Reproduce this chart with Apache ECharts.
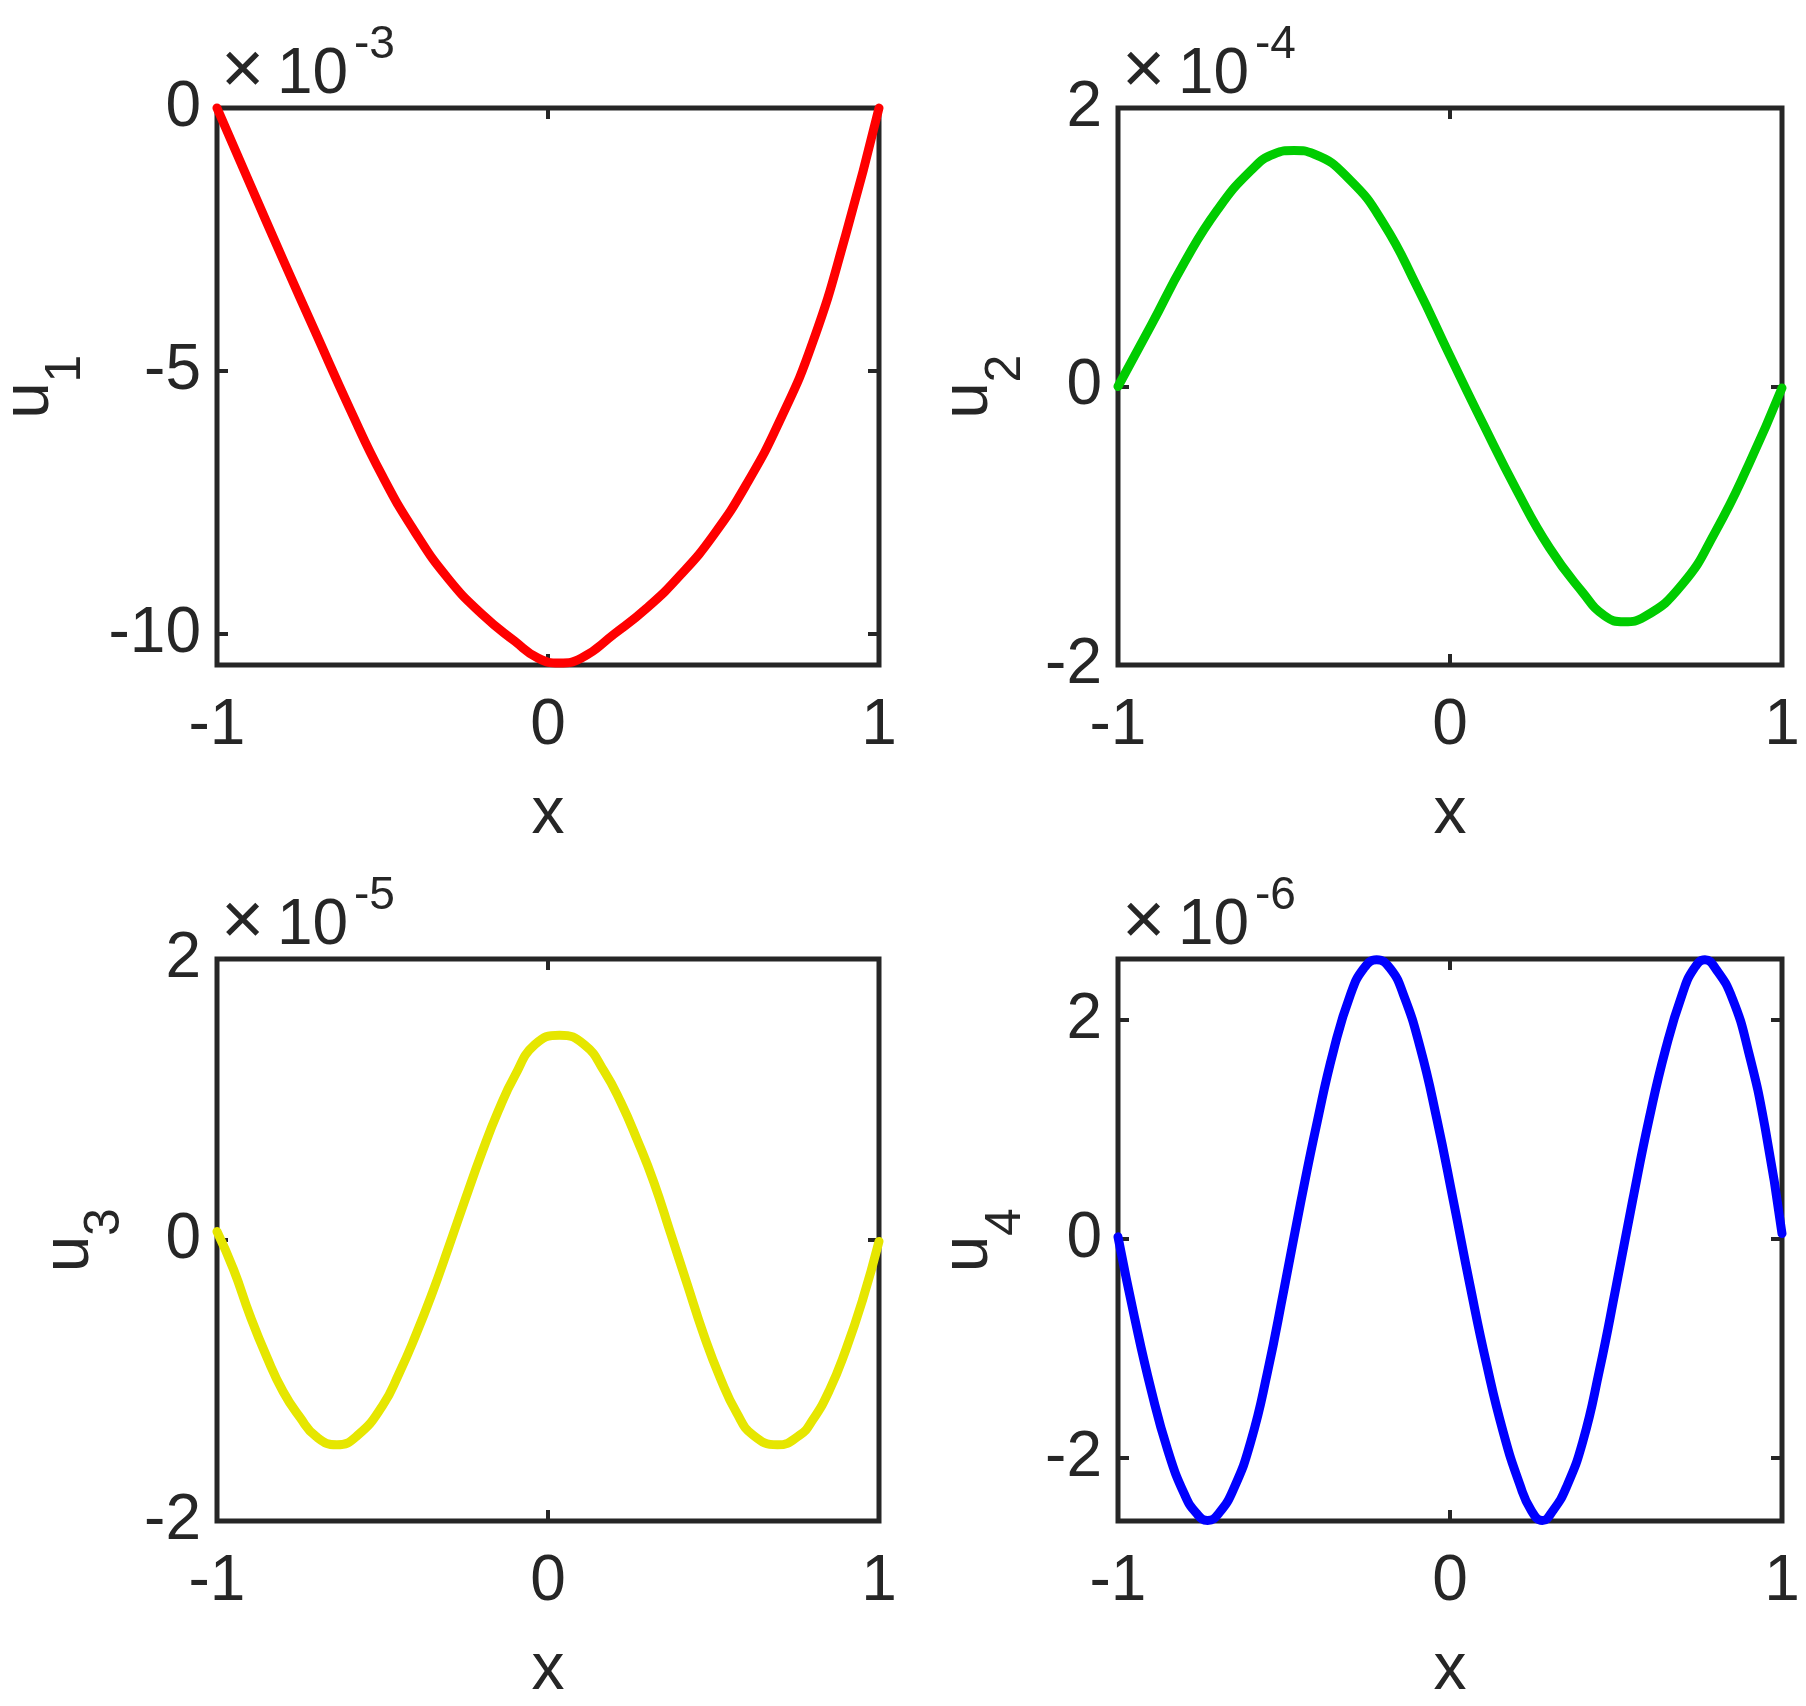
<!DOCTYPE html>
<html>
<head>
<meta charset="utf-8">
<script src="https://cdn.jsdelivr.net/npm/echarts@6/dist/echarts.min.js"></script>
<style>
  html, body { margin: 0; padding: 0; background: #fff; }
  #chart { width: 1806px; height: 1706px; }
</style>
</head>
<body>
<div id="chart"></div>
<script>
// u1 in units of 1e-3
const x1 = [-1.0, -0.9, -0.8, -0.7, -0.6, -0.5, -0.4, -0.3, -0.2, -0.1, -0.03,
  0.035, 0.1, 0.2, 0.3, 0.4, 0.5, 0.6, 0.7, 0.8, 0.9, 1.0];
const u1 = [0, -1.45, -2.89, -4.30, -5.70, -7.0, -8.08, -8.96, -9.62, -10.14, -10.46,
  -10.55, -10.46, -10.0, -9.50, -8.88, -8.12, -7.15, -5.95, -4.45, -2.40, 0];

// u2 in units of 1e-4
const x2 = [-1.0, -0.9, -0.8, -0.7, -0.6, -0.53, -0.47, -0.41, -0.3, -0.2, -0.1, 0.0,
  0.1, 0.2, 0.3, 0.4, 0.465, 0.525, 0.585, 0.7, 0.8, 0.9, 1.0];
const u2 = [0.0, 0.44, 0.89, 1.27, 1.55, 1.67, 1.695, 1.67, 1.48, 1.17, 0.72, 0.22,
  -0.27, -0.74, -1.16, -1.48, -1.645, -1.69, -1.655, -1.42, -1.04, -0.56, -0.01];

// u3 in units of 1e-5
const x3 = [-1.0, -0.95, -0.9, -0.85, -0.8, -0.75, -0.7, -0.638, -0.575, -0.5, -0.45,
  -0.4, -0.35, -0.3, -0.25, -0.2, -0.15, -0.1, -0.04, 0.035, 0.11, 0.17,
  0.22, 0.27, 0.32, 0.37, 0.42, 0.47, 0.52, 0.57, 0.62, 0.693, 0.76,
  0.8, 0.85, 0.9, 0.95, 1.0];
const u3 = [0.06, -0.21, -0.54, -0.83, -1.08, -1.26, -1.40, -1.458, -1.39, -1.18, -0.95,
  -0.68, -0.38, -0.05, 0.29, 0.62, 0.92, 1.17, 1.39, 1.458, 1.39, 1.20,
  0.98, 0.71, 0.41, 0.05, -0.31, -0.67, -0.98, -1.23, -1.39, -1.458, -1.39,
  -1.28, -1.07, -0.78, -0.43, -0.01];

// u4 in units of 1e-6
const x4 = [-1.0, -0.95, -0.9, -0.85, -0.8, -0.765, -0.73, -0.695, -0.65, -0.6, -0.55,
  -0.5, -0.45, -0.4, -0.35, -0.3, -0.26, -0.221, -0.18, -0.14, -0.09, -0.04,
  0.01, 0.06, 0.11, 0.16, 0.21, 0.245, 0.278, 0.31, 0.35, 0.4, 0.45,
  0.5, 0.55, 0.6, 0.65, 0.7, 0.735, 0.768, 0.8, 0.85, 0.9, 0.95, 1.0];
const u4 = [0.02, -0.72, -1.38, -1.93, -2.33, -2.50, -2.57, -2.50, -2.27, -1.85, -1.22,
  -0.46, 0.33, 1.07, 1.73, 2.23, 2.47, 2.55, 2.47, 2.23, 1.75, 1.10,
  0.35, -0.42, -1.14, -1.76, -2.24, -2.48, -2.57, -2.48, -2.27, -1.85, -1.20,
  -0.44, 0.35, 1.10, 1.74, 2.24, 2.47, 2.55, 2.47, 2.20, 1.70, 1.00, 0.05];

const u1Ticks = [-10, -5, 0];
const u2Ticks = [-2, 0, 2];
const u3Ticks = [-2, 0, 2];
const u4Ticks = [-2, 0, 2];

const subscripts = ['1', '2', '3', '4'];
const exponents = ['-3', '-4', '-5', '-6'];

const ink = '#262626';
const font = 'Liberation Sans';

const panels = [
  { xs: x1, ys: u1, ticks: u1Ticks, min: -10.59, max: 0, color: '#ff0000', left: 217, top: 108, width: 662, height: 557, uOff: 187, sOff: 151 },
  { xs: x2, ys: u2, ticks: u2Ticks, min: -2, max: 2, color: '#00cc00', left: 1118, top: 108, width: 664, height: 557, uOff: 149, sOff: 112 },
  { xs: x3, ys: u3, ticks: u3Ticks, min: -2, max: 2, color: '#e6e600', left: 217, top: 959, width: 662, height: 562, uOff: 147, sOff: 112 },
  { xs: x4, ys: u4, ticks: u4Ticks, min: -2.575, max: 2.557, color: '#0000ff', left: 1118, top: 959, width: 664, height: 562, uOff: 149, sOff: 112 }
];

const grids = [], xAxes = [], yAxes = [], series = [], graphics = [];

panels.forEach((p, i) => {
  grids.push({
    left: p.left, top: p.top, width: p.width, height: p.height,
    show: true, borderColor: ink, borderWidth: 5,
    containLabel: false, outerBoundsMode: 'none'
  });

  const tickStyle = { show: true, inside: true, length: 11, lineStyle: { color: ink, width: 4 } };
  const noLine = { show: false, onZero: false };

  // bottom x axis carries labels, top one only mirrors the ticks
  xAxes.push({
    type: 'value', gridIndex: i, position: 'bottom',
    min: -1, max: 1, interval: 1,
    axisLine: noLine,
    axisTick: tickStyle,
    splitLine: { show: false },
    axisLabel: { color: ink, fontSize: 64, fontFamily: font, margin: 29 },
    name: 'x', nameLocation: 'middle', nameGap: 117,
    nameTextStyle: { color: ink, fontSize: 66, fontFamily: font }
  });
  xAxes.push({
    type: 'value', gridIndex: i, position: 'top',
    min: -1, max: 1, interval: 1,
    axisLine: noLine,
    axisTick: tickStyle,
    splitLine: { show: false },
    axisLabel: { show: false }
  });

  yAxes.push({
    type: 'value', gridIndex: i, position: 'left',
    min: p.min, max: p.max,
    axisLine: noLine,
    axisTick: Object.assign({ customValues: p.ticks }, tickStyle),
    splitLine: { show: false },
    axisLabel: { customValues: p.ticks, color: ink, fontSize: 64, fontFamily: font, margin: 16 }
  });
  yAxes.push({
    type: 'value', gridIndex: i, position: 'right',
    min: p.min, max: p.max,
    axisLine: noLine,
    axisTick: Object.assign({ customValues: p.ticks }, tickStyle),
    splitLine: { show: false },
    axisLabel: { show: false }
  });

  series.push({
    type: 'line',
    xAxisIndex: 2 * i, yAxisIndex: 2 * i,
    data: p.xs.map((x, k) => [x, p.ys[k]]),
    showSymbol: false,
    smooth: 0.5,
    clip: false,
    z: 5,
    lineStyle: { color: p.color, width: 9, cap: 'round', join: 'round' }
  });

  // "×10^n" multiplier above the axes
  const txt = (text, x, y, size) => ({
    type: 'text', x: x, y: y, silent: true,
    style: {
      text: text, fill: ink, fontSize: size, fontFamily: font,
      textAlign: 'left', textVerticalAlign: 'middle', align: 'left', verticalAlign: 'middle'
    }
  });
  graphics.push(txt('×', p.left + 4, p.top - 35, 74));
  graphics.push(txt('10', p.left + 60, p.top - 33, 64));
  graphics.push(txt(exponents[i], p.left + 137, p.top - 63, 46));

  // rotated y label u with subscript
  const cy = p.top + p.height / 2;
  const rot = (text, x, y, size) => ({
    type: 'text', x: x, y: y, rotation: Math.PI / 2, silent: true,
    style: {
      text: text, fill: ink, fontSize: size, fontFamily: font,
      textAlign: 'center', textVerticalAlign: 'middle', align: 'center', verticalAlign: 'middle'
    }
  });
  graphics.push(rot('u', p.left - p.uOff, cy + 14, 66));
  graphics.push(rot(subscripts[i], p.left - p.sOff, cy - 18, 50));
});

const chart = echarts.init(document.getElementById('chart'), null, { renderer: 'canvas' });
chart.setOption({
  animation: false,
  backgroundColor: '#ffffff',
  grid: grids,
  xAxis: xAxes,
  yAxis: yAxes,
  series: series,
  graphic: graphics
});
</script>
</body>
</html>
